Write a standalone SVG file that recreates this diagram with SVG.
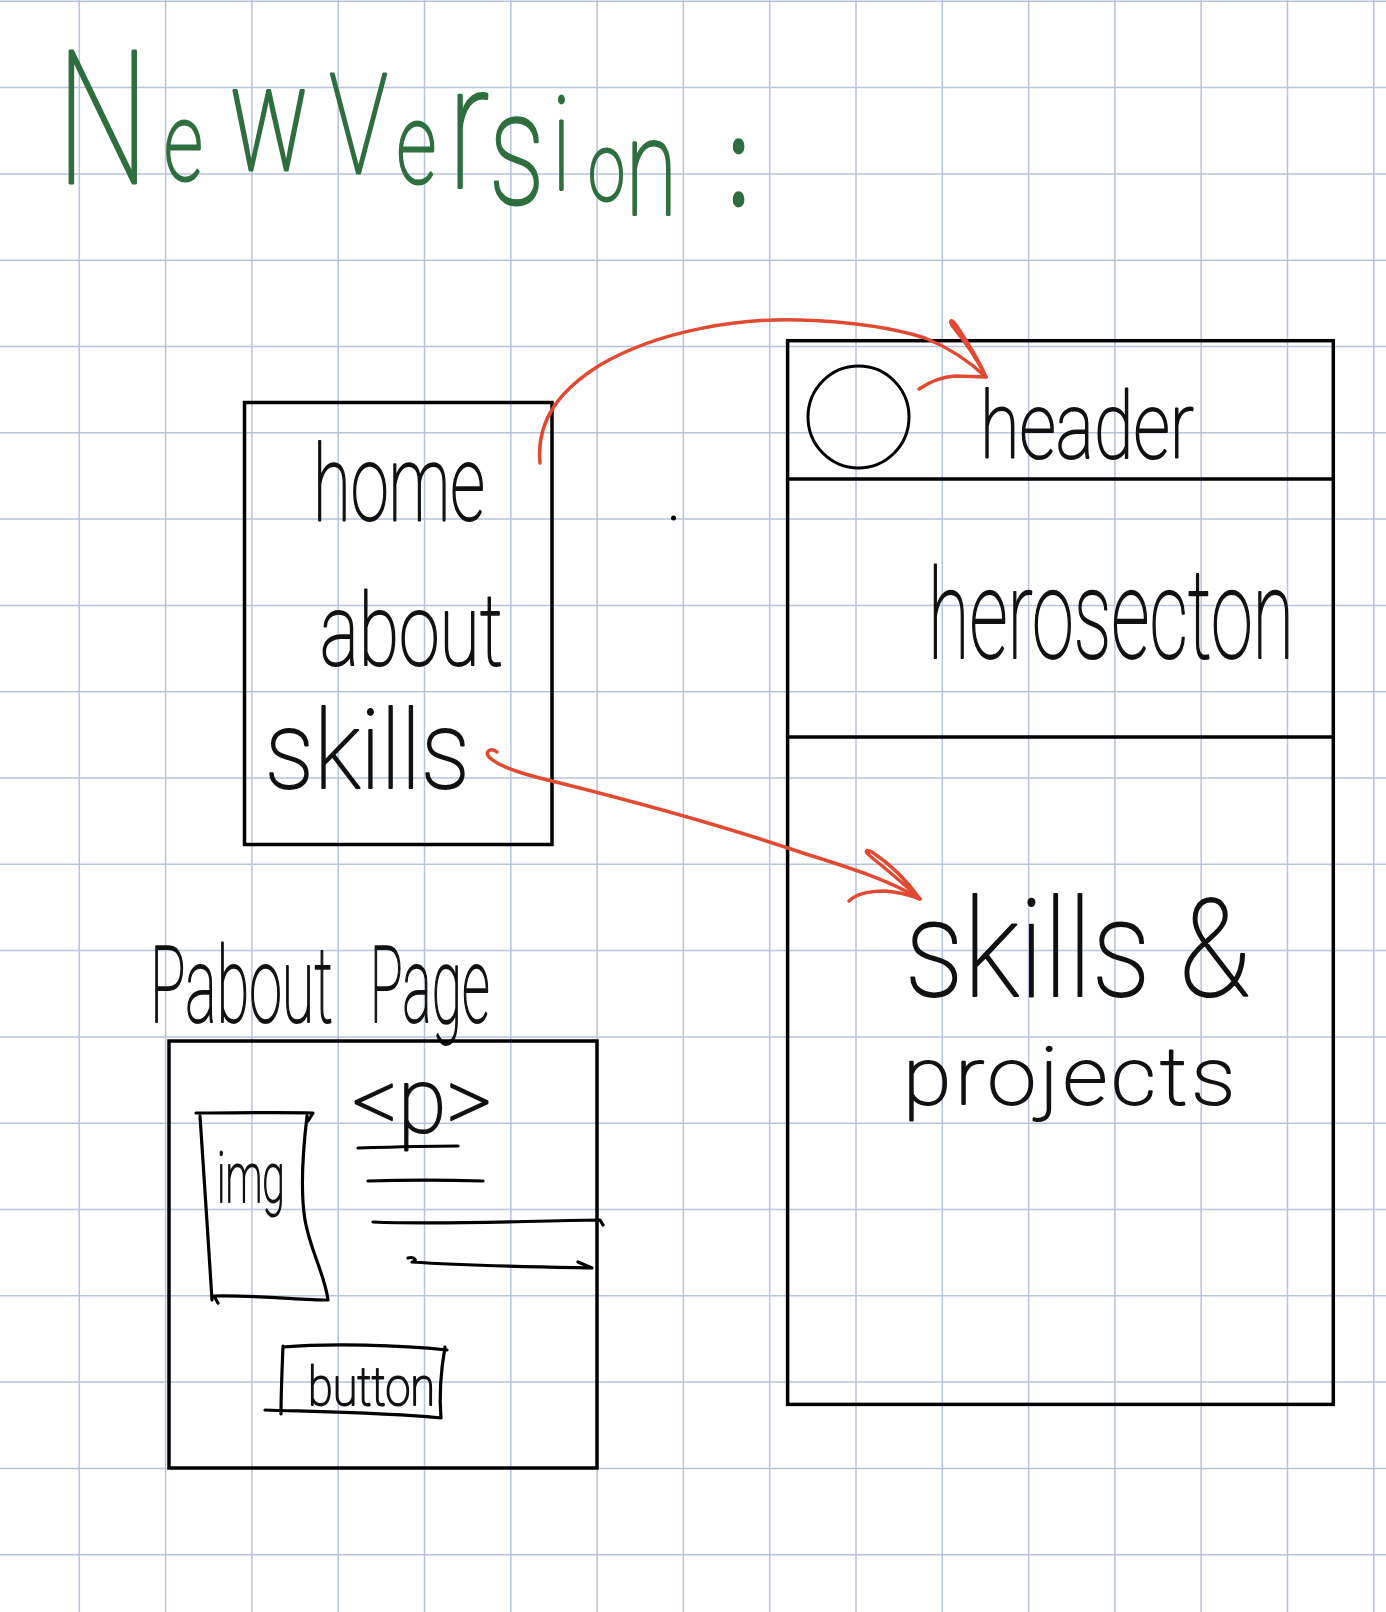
<svg xmlns="http://www.w3.org/2000/svg" width="1386" height="1612" viewBox="0 0 1386 1612">
  <style>
    .grid { stroke: #b7c4dc; stroke-width: 1.5; fill: none; }
    .box { fill: none; stroke: #000; stroke-width: 3.5; }
    .pen { fill: none; stroke: #000; stroke-width: 3.2; stroke-linecap: round; stroke-linejoin: round; }
    .red { fill: none; stroke: #e04a32; stroke-width: 3.5; stroke-linecap: round; stroke-linejoin: round; }
    .hw { font-family: Roboto, "Liberation Sans", sans-serif; font-weight: 100; fill: #111; stroke: #111; stroke-width: 2; stroke-linejoin: round; }
    .title { font-family: Roboto, "Liberation Sans", sans-serif; font-weight: 100; fill: #2f6e3f; stroke: #2f6e3f; stroke-width: 3; stroke-linejoin: round; }
  </style>

  <rect width="1386" height="1612" fill="#ffffff"/>

  <!-- squared paper -->
  <path class="grid" d="M79.3 0V1612M165.6 0V1612M251.9 0V1612M338.2 0V1612M424.5 0V1612M510.8 0V1612M597.1 0V1612M683.4 0V1612M769.7 0V1612M856 0V1612M942.3 0V1612M1028.6 0V1612M1114.9 0V1612M1201.2 0V1612M1287.5 0V1612M1373.8 0V1612
    M0 1.3H1386M0 87.6H1386M0 173.9H1386M0 260.2H1386M0 346.5H1386M0 432.8H1386M0 519.1H1386M0 605.4H1386M0 691.7H1386M0 778H1386M0 864.3H1386M0 950.6H1386M0 1036.9H1386M0 1123.2H1386M0 1209.5H1386M0 1295.8H1386M0 1382.1H1386M0 1468.4H1386M0 1554.7H1386"/>

  <!-- heading, letters sized one by one, whole line squeezed to 70% -->
  <g id="title">
    <text class="title" font-size="130" transform="translate(57 0) scale(0.7 1)"><tspan x="0" y="183" font-size="185">N</tspan><tspan x="153" y="180" font-size="110">e</tspan><tspan x="246" y="170" font-size="150">w</tspan> <tspan x="389" y="173" font-size="140">V</tspan><tspan x="485" y="183" font-size="113">e</tspan><tspan x="559" y="187" font-size="175">r</tspan><tspan x="617" y="203" font-size="160">s</tspan><tspan x="707" y="190" font-size="130">i</tspan><tspan x="759" y="200" font-size="95">o</tspan><tspan x="812" y="215" font-size="135">n</tspan><tspan x="959" y="205" font-size="122" font-weight="400">:</tspan></text>
  </g>

  <!-- navigation list -->
  <g id="nav">
    <rect class="box" x="244.5" y="402.5" width="307.5" height="442"/>
    <text class="hw" font-size="105" transform="translate(313 520) scale(0.664 1)" textLength="259" lengthAdjust="spacingAndGlyphs">home</text>
    <text class="hw" font-size="100" transform="translate(320 665) scale(0.73 1)" textLength="250.7" lengthAdjust="spacingAndGlyphs">about</text>
    <text class="hw" font-size="110" transform="translate(265 788) scale(0.84 1)" textLength="244" lengthAdjust="spacingAndGlyphs">skills</text>
  </g>

  <circle cx="673.5" cy="518" r="2.5" fill="#000"/>

  <!-- page layout -->
  <g id="page">
    <rect class="box" x="787.6" y="340.7" width="545.7" height="1063.7"/>
  </g>

  <g id="header">
    <line class="box" x1="787.6" y1="479" x2="1333.3" y2="479"/>
    <ellipse cx="858.5" cy="417" rx="50.5" ry="51" fill="none" stroke="#000" stroke-width="3"/>
    <text class="hw" font-size="92" transform="translate(980 458) scale(0.775 1)" textLength="276" lengthAdjust="spacingAndGlyphs">header</text>
  </g>

  <g id="hero">
    <line class="box" x1="787.6" y1="737" x2="1333.3" y2="737"/>
    <text class="hw" font-size="125" transform="translate(928 658) scale(0.599 1)" textLength="611" lengthAdjust="spacingAndGlyphs">herosecton</text>
  </g>

  <g id="skills-projects">
    <text class="hw" font-size="135" transform="translate(905 996) scale(0.83 1)" textLength="416" lengthAdjust="spacingAndGlyphs">skills &amp;</text>
    <text class="hw" font-size="80" transform="translate(903 1104) scale(1.1 1)" textLength="302" lengthAdjust="spacing">projects</text>
  </g>

  <!-- about page wireframe -->
  <g id="about-page">
    <text class="hw" font-size="105" transform="translate(150 1022) scale(0.54 1)"><tspan x="0" textLength="339" lengthAdjust="spacingAndGlyphs">Pabout</tspan> <tspan x="407" textLength="222" lengthAdjust="spacingAndGlyphs">Page</tspan></text>
    <rect class="box" x="169" y="1041" width="428" height="427"/>
  </g>

  <g id="img">
    <path class="pen" d="M196 1113C230 1113 280 1112 313 1113L308 1121M307 1116C303 1150 300 1190 305 1220C310 1250 325 1275 328 1300C300 1300 260 1295 214 1296L218 1303M200 1116C204 1170 208 1240 212 1300"/>
    <text class="hw" font-size="70" transform="translate(217 1202) scale(0.59 1)" textLength="115" lengthAdjust="spacingAndGlyphs">img</text>
  </g>

  <g id="paragraph">
    <text class="hw" x="352" y="1132" font-size="90" textLength="140" lengthAdjust="spacingAndGlyphs">&lt;p&gt;</text>
    <path class="pen" d="M358 1148C390 1147 430 1146 458 1146M368 1181C400 1180 450 1180 483 1181M373 1222C440 1225 520 1221 600 1220L603 1225M408 1258C415 1256 418 1262 412 1262C470 1266 540 1267 592 1268L578 1262"/>
  </g>

  <g id="button">
    <path class="pen" d="M283 1347C330 1343 400 1345 447 1350M445 1347C441 1370 439 1395 441 1418M265 1410C330 1412 390 1413 441 1418M283 1346C282 1370 281 1395 281 1414"/>
    <text class="hw" font-size="54" transform="translate(308 1405) scale(0.835 1)" textLength="152" lengthAdjust="spacingAndGlyphs">button</text>
  </g>

  <!-- links from the menu to page sections -->
  <g id="connectors">
    <path class="red" d="M540 463C536 420 560 390 600 365C660 330 740 318 800 320C860 322 900 330 925 338C950 348 970 362 986 377"/>
    <path class="red" d="M986 377C975 355 962 338 954 328C948 320 951 318 956 325C966 340 978 358 986 377M919 389C928 383 940 377 955 376L986 377"/>
    <path class="red" d="M497 752C491 747 484 752 489 757C500 768 530 776 560 783C640 803 720 825 800 852C850 868 890 880 920 899"/>
    <path class="red" d="M920 899C905 885 885 868 870 856C864 851 866 849 872 852C890 864 908 882 920 899M849 901C856 894 870 891 885 891C900 892 912 896 920 899"/>
  </g>
</svg>
